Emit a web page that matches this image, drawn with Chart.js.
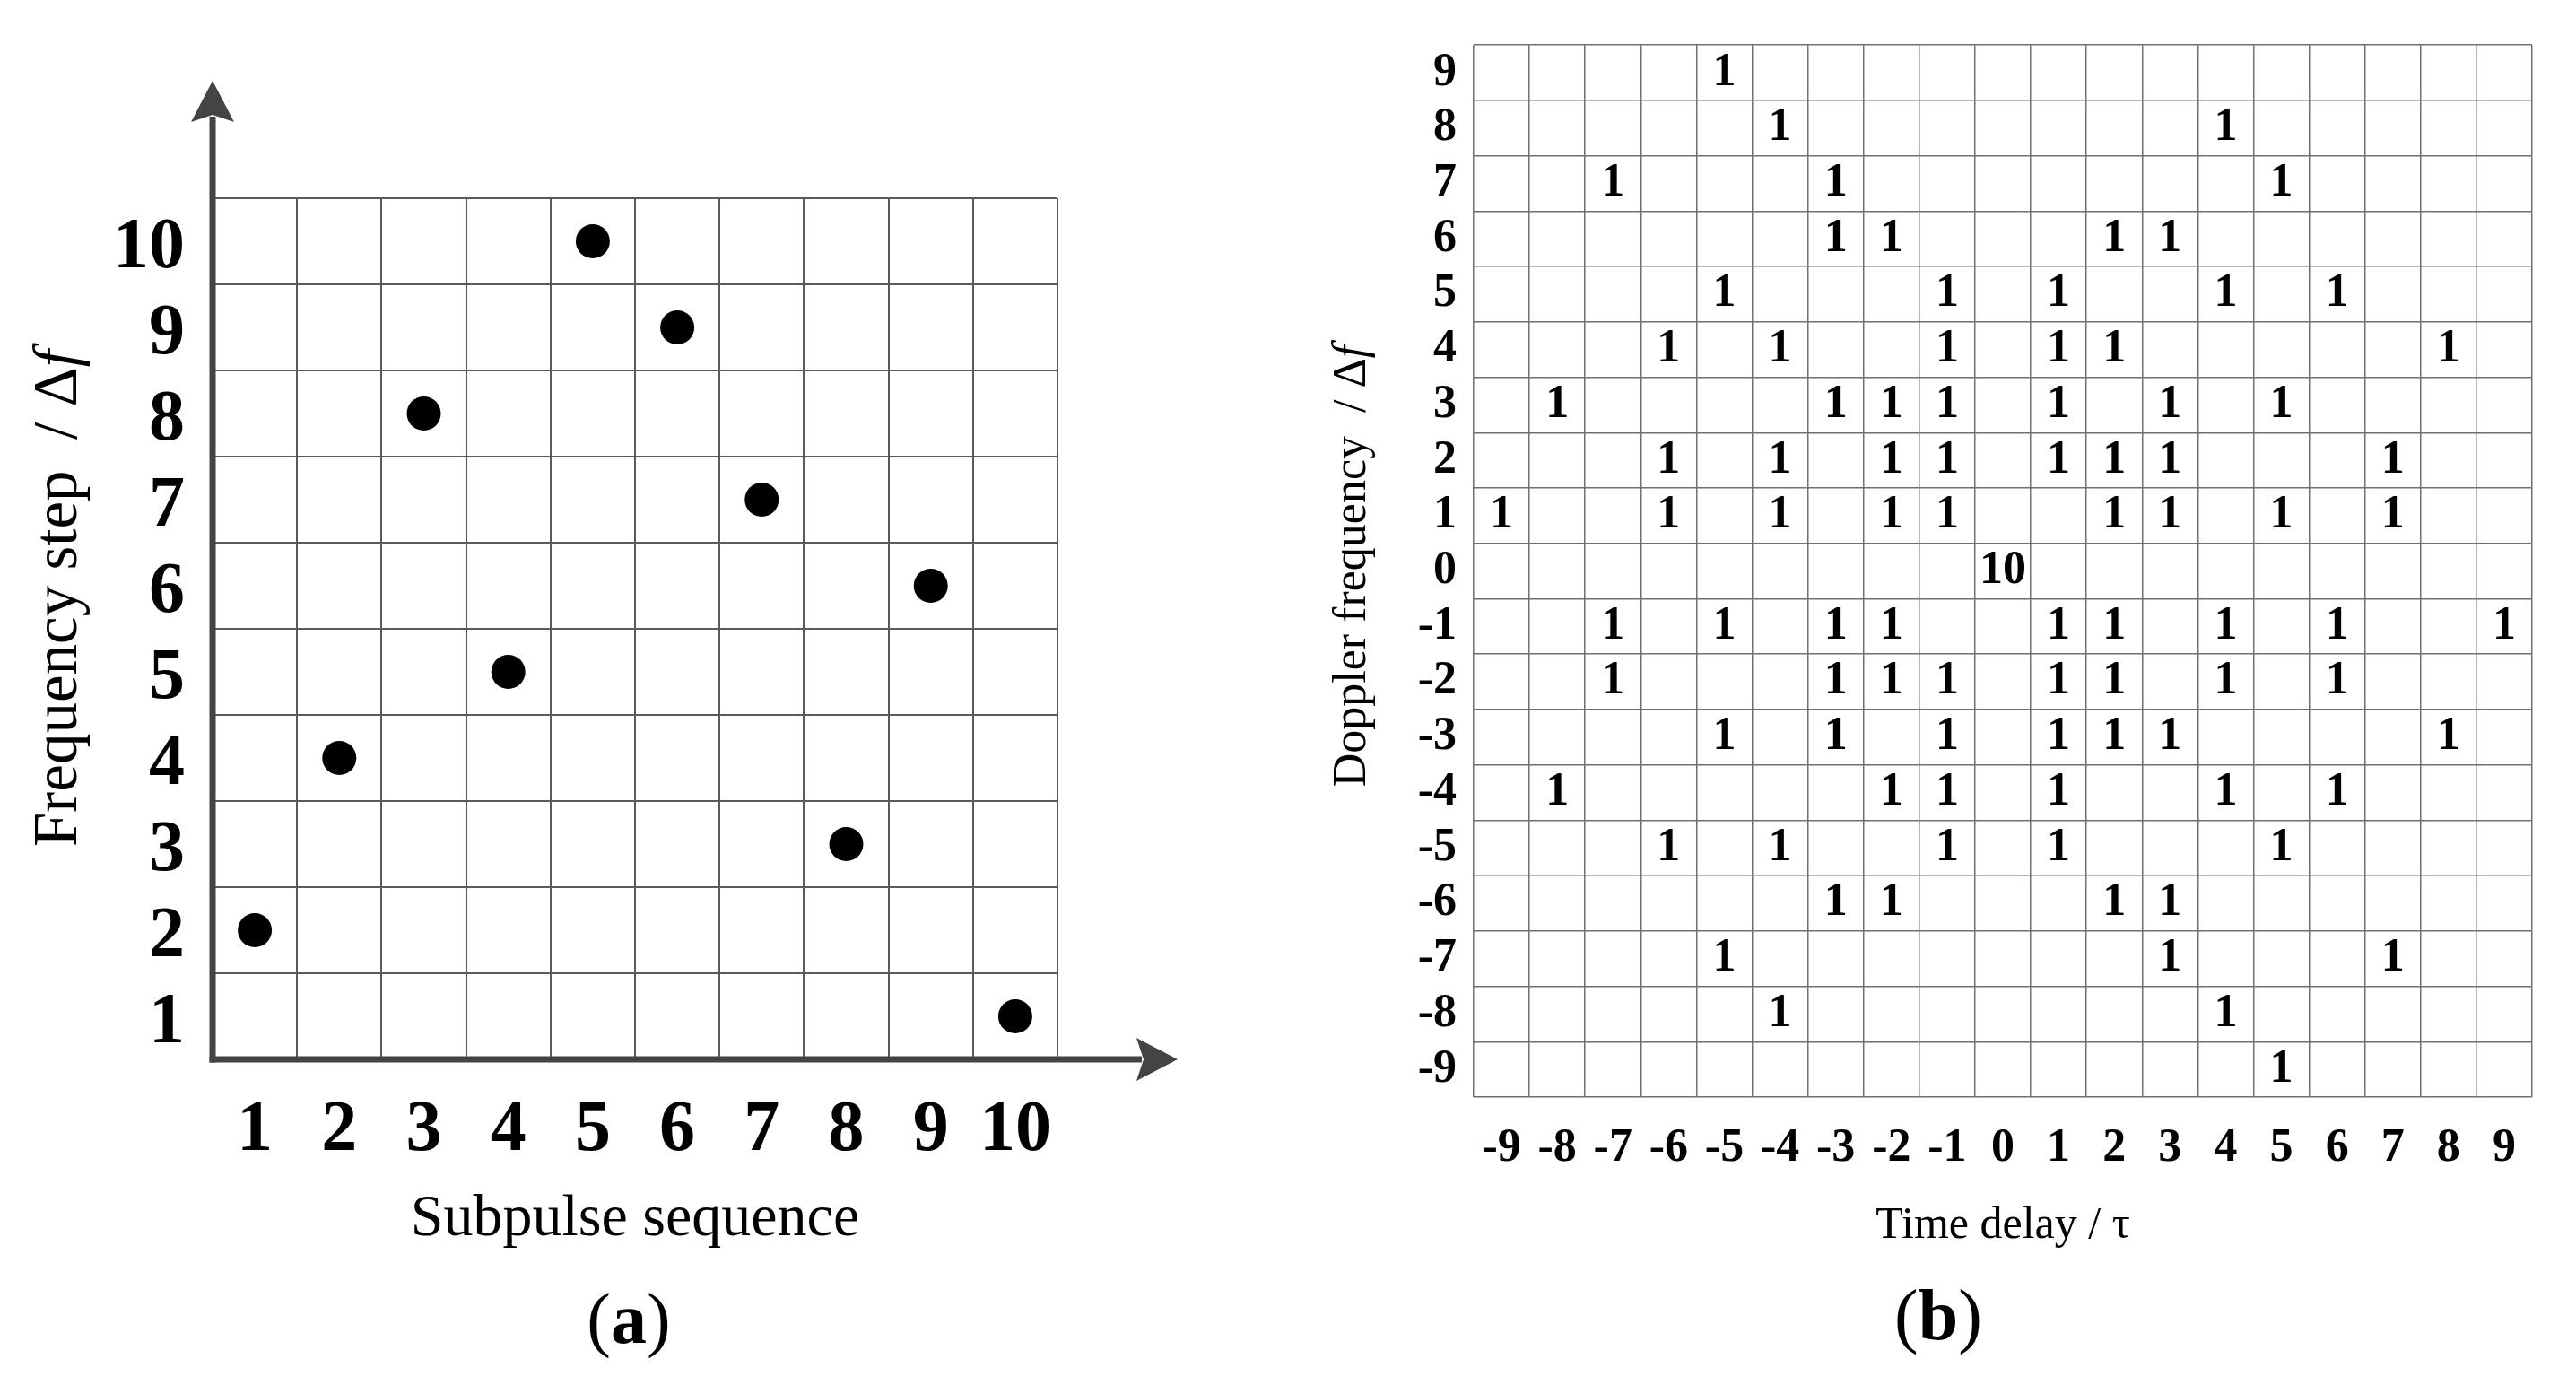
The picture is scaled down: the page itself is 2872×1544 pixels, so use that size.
<!DOCTYPE html>
<html>
<head>
<meta charset="utf-8">
<script src="https://cdn.jsdelivr.net/npm/chart.js@4.4.0/dist/chart.umd.min.js"></script>
<style>
html, body { margin: 0; padding: 0; background: #fff; }
body { width: 2872px; height: 1544px; position: relative; overflow: hidden; font-family: "Liberation Serif", serif; }
#chartA { position: absolute; left: 0; top: 0; }
#chartB { position: absolute; left: 1400px; top: 0; }
.caption { position: absolute; font-size: 80px; line-height: 1; transform: translate(-50%, -50%); color: #000; white-space: nowrap; }
</style>
</head>
<body>
<canvas id="chartA" width="1400" height="1544"></canvas>
<canvas id="chartB" width="1472" height="1544"></canvas>
<div class="caption" style="left:701px; top:1470px">(<b>a</b>)</div>
<div class="caption" style="left:2161px; top:1466px">(<b>b</b>)</div>
<script>
// (a) frequency-hopping code
var subpulseLabels = ['1', '2', '3', '4', '5', '6', '7', '8', '9', '10'];
var freqStepLabels = ['10', '9', '8', '7', '6', '5', '4', '3', '2', '1'];
var freqSteps = [2, 4, 8, 5, 10, 9, 7, 3, 6, 1];

// (b) ambiguity matrix, rows = Doppler 9..-9, cols = delay -9..9 (0 = empty cell)
var delayLabels = ['-9', '-8', '-7', '-6', '-5', '-4', '-3', '-2', '-1', '0', '1', '2', '3', '4', '5', '6', '7', '8', '9'];
var dopplerLabels = ['9', '8', '7', '6', '5', '4', '3', '2', '1', '0', '-1', '-2', '-3', '-4', '-5', '-6', '-7', '-8', '-9'];
var ambiguity = [
    [0,0,0,0,1,0,0,0,0,0,0,0,0,0,0,0,0,0,0],
    [0,0,0,0,0,1,0,0,0,0,0,0,0,1,0,0,0,0,0],
    [0,0,1,0,0,0,1,0,0,0,0,0,0,0,1,0,0,0,0],
    [0,0,0,0,0,0,1,1,0,0,0,1,1,0,0,0,0,0,0],
    [0,0,0,0,1,0,0,0,1,0,1,0,0,1,0,1,0,0,0],
    [0,0,0,1,0,1,0,0,1,0,1,1,0,0,0,0,0,1,0],
    [0,1,0,0,0,0,1,1,1,0,1,0,1,0,1,0,0,0,0],
    [0,0,0,1,0,1,0,1,1,0,1,1,1,0,0,0,1,0,0],
    [1,0,0,1,0,1,0,1,1,0,0,1,1,0,1,0,1,0,0],
    [0,0,0,0,0,0,0,0,0,10,0,0,0,0,0,0,0,0,0],
    [0,0,1,0,1,0,1,1,0,0,1,1,0,1,0,1,0,0,1],
    [0,0,1,0,0,0,1,1,1,0,1,1,0,1,0,1,0,0,0],
    [0,0,0,0,1,0,1,0,1,0,1,1,1,0,0,0,0,1,0],
    [0,1,0,0,0,0,0,1,1,0,1,0,0,1,0,1,0,0,0],
    [0,0,0,1,0,1,0,0,1,0,1,0,0,0,1,0,0,0,0],
    [0,0,0,0,0,0,1,1,0,0,0,1,1,0,0,0,0,0,0],
    [0,0,0,0,1,0,0,0,0,0,0,0,1,0,0,0,1,0,0],
    [0,0,0,0,0,1,0,0,0,0,0,0,0,1,0,0,0,0,0],
    [0,0,0,0,0,0,0,0,0,0,0,0,0,0,1,0,0,0,0]
];

var SERIF = 'Liberation Serif';

var codePoints = subpulseLabels.map(function (s, i) {
    return { x: s, y: String(freqSteps[i]) };
});

var cellPoints = [];
dopplerLabels.forEach(function (d, r) {
    ambiguity[r].forEach(function (v, c) {
        if (v) cellPoints.push({ x: delayLabels[c], y: d, v: v });
    });
});

// rotated axis title, the last part in italic
var yTitlePlugin = {
    id: 'yTitle',
    afterDraw: function (chart, args, o) {
        var ctx = chart.ctx;
        var f1 = o.size + 'px "' + SERIF + '"';
        var f2 = 'italic ' + o.size + 'px "' + SERIF + '"';
        ctx.save();
        ctx.translate(o.x, o.y);
        ctx.rotate(-Math.PI / 2);
        ctx.fillStyle = '#000';
        ctx.textBaseline = 'alphabetic';
        ctx.textAlign = 'left';
        ctx.font = f1;
        var w1 = ctx.measureText(o.text).width;
        ctx.font = f2;
        var w2 = ctx.measureText(o.italic).width;
        var start = -(w1 + w2) / 2;
        ctx.font = f1;
        ctx.fillText(o.text, start, 0);
        ctx.font = f2;
        ctx.fillText(o.italic, start + w1, 0);
        ctx.restore();
    }
};

function arrowHead(ctx, tx, ty, dx, dy) {
    var len = 46, half = 24, notch = 8;
    var bx = tx - dx * len, by = ty - dy * len;
    var px = -dy, py = dx;
    ctx.beginPath();
    ctx.moveTo(tx, ty);
    ctx.lineTo(bx + px * half, by + py * half);
    ctx.lineTo(bx + dx * notch, by + dy * notch);
    ctx.lineTo(bx - px * half, by - py * half);
    ctx.closePath();
    ctx.fill();
}

// thick axes with arrow heads for panel (a)
var axisArrowPlugin = {
    id: 'axisArrows',
    afterDraw: function (chart) {
        var a = chart.chartArea, ctx = chart.ctx;
        var yTip = a.top - 131, xTip = a.right + 134;
        ctx.save();
        ctx.strokeStyle = '#444';
        ctx.fillStyle = '#444';
        ctx.lineWidth = 7;
        ctx.beginPath();
        ctx.moveTo(a.left, a.bottom + 3.5);
        ctx.lineTo(a.left, yTip + 40);
        ctx.stroke();
        ctx.beginPath();
        ctx.moveTo(a.left - 3.5, a.bottom);
        ctx.lineTo(xTip - 40, a.bottom);
        ctx.stroke();
        arrowHead(ctx, a.left, yTip, 0, -1);
        arrowHead(ctx, xTip, a.bottom, 1, 0);
        ctx.restore();
    }
};

// numbers written in the cells of panel (b)
var cellTextPlugin = {
    id: 'cellText',
    afterDatasetsDraw: function (chart) {
        var ctx = chart.ctx;
        var meta = chart.getDatasetMeta(0);
        ctx.save();
        ctx.font = 'bold 52px "' + SERIF + '"';
        ctx.fillStyle = '#000';
        ctx.textAlign = 'center';
        ctx.textBaseline = 'middle';
        meta.data.forEach(function (el, i) {
            ctx.fillText(String(cellPoints[i].v), el.x, el.y);
        });
        ctx.restore();
    }
};

new Chart(document.getElementById('chartA'), {
    type: 'scatter',
    data: {
        datasets: [{
            data: codePoints,
            pointRadius: 19,
            pointHoverRadius: 19,
            backgroundColor: '#000',
            borderColor: '#000',
            borderWidth: 0
        }]
    },
    options: {
        responsive: false,
        animation: false,
        events: [],
        layout: { padding: { left: 0, top: 221, right: 221, bottom: 123 } },
        plugins: {
            legend: { display: false },
            tooltip: { enabled: false },
            yTitle: { text: 'Frequency step  / \u0394', italic: 'f', x: 85, y: 667, size: 69 }
        },
        scales: {
            x: {
                type: 'category',
                labels: subpulseLabels,
                offset: true,
                grid: { offset: true, color: '#5a5a5a', lineWidth: 2, drawTicks: false },
                border: { display: false },
                ticks: { padding: 32, color: '#000', autoSkip: false, maxRotation: 0, font: { family: SERIF, size: 80, weight: 'bold' } },
                title: { display: true, text: 'Subpulse sequence', color: '#000', font: { family: SERIF, size: 66 }, padding: { top: 0, bottom: 22 } },
                afterFit: function (s) { s.height = 240; }
            },
            y: {
                type: 'category',
                labels: freqStepLabels,
                offset: true,
                grid: { offset: true, color: '#5a5a5a', lineWidth: 2, drawTicks: false },
                border: { display: false },
                ticks: { padding: 31, labelOffset: 8, color: '#000', autoSkip: false, font: { family: SERIF, size: 80, weight: 'bold' } },
                afterFit: function (s) { s.width = 237; }
            }
        }
    },
    plugins: [axisArrowPlugin, yTitlePlugin]
});

new Chart(document.getElementById('chartB'), {
    type: 'scatter',
    data: {
        datasets: [{
            data: cellPoints,
            pointRadius: 0,
            pointHoverRadius: 0
        }]
    },
    options: {
        responsive: false,
        animation: false,
        events: [],
        layout: { padding: { left: 0, top: 38, right: 49, bottom: 121 } },
        plugins: {
            legend: { display: false },
            tooltip: { enabled: false },
            yTitle: { text: 'Doppler frequency  / \u0394', italic: 'f', x: 122, y: 631, size: 52 }
        },
        scales: {
            x: {
                type: 'category',
                labels: delayLabels,
                offset: true,
                grid: { offset: true, color: '#707070', lineWidth: 1.5, drawTicks: false },
                border: { display: false },
                ticks: { padding: 26, color: '#000', autoSkip: false, maxRotation: 0, font: { family: SERIF, size: 52, weight: 'bold' } },
                title: { display: true, text: 'Time delay / \u03c4', color: '#000', font: { family: SERIF, size: 50 }, padding: { top: 0, bottom: 26 } },
                afterFit: function (s) { s.height = 200; }
            },
            y: {
                type: 'category',
                labels: dopplerLabels,
                offset: true,
                grid: { offset: true, color: '#707070', lineWidth: 1.5, drawTicks: false },
                border: { display: false },
                ticks: { padding: 19, color: '#000', autoSkip: false, font: { family: SERIF, size: 52, weight: 'bold' } },
                afterFit: function (s) { s.width = 243; }
            }
        }
    },
    plugins: [cellTextPlugin, yTitlePlugin]
});
</script>
</body>
</html>
